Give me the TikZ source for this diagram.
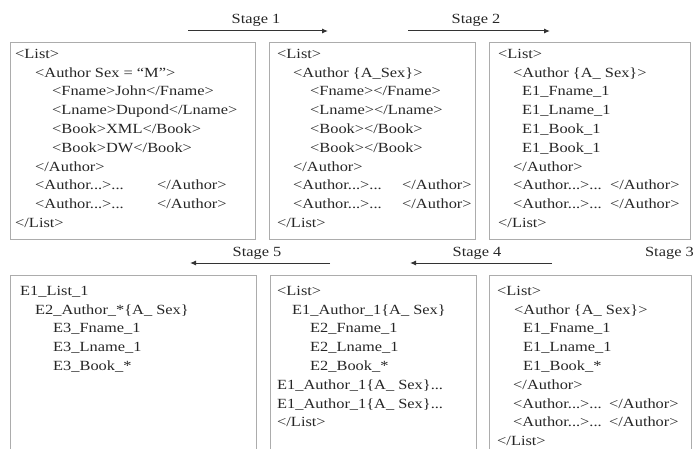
\documentclass[tikz,border=0pt]{standalone}
\usepackage{fontspec}
\setmainfont{Liberation Serif}[FakeStretch=1.17]
\usetikzlibrary{arrows.meta}

\tikzset{
  panel/.style={draw=gray!65, line width=1.4pt, inner sep=0pt, anchor=north west},
  listing/.style={anchor=north west, inner sep=0pt, align=left, text=black!85,
    font=\fontsize{14}{18.8}\selectfont},
  stagelabel/.style={inner sep=0pt, text=black!85, font=\fontsize{14}{16}\selectfont},
  stagearrow/.style={draw=black!80, line width=1pt, -{Latex[length=6pt,width=5pt]}}
}
\newcommand{\ind}[1]{\hspace*{#1pt}}
\newcommand{\fix}{\rule{0pt}{12pt}}

\begin{document}
\begin{tikzpicture}[x=1pt,y=-1pt]
\useasboundingbox (0,0) rectangle (695,449);
\clip (0,0) rectangle (695,449);

% ---- panels ----
\node[panel, minimum width=245pt, minimum height=197pt] (b1) at (10,42) {};
\node[panel, minimum width=206pt, minimum height=197pt] (b2) at (269,42) {};
\node[panel, minimum width=201pt, minimum height=197pt] (b3) at (489,42) {};
\node[panel, minimum width=246pt, minimum height=200pt] (b4) at (10,275) {};
\node[panel, minimum width=206pt, minimum height=200pt] (b5) at (270,275) {};
\node[panel, minimum width=202pt, minimum height=200pt] (b6) at (489,275) {};

% ---- contents: original document ----
\node[listing] (t1) at (15,46) {\fix<List>\\
\ind{20}<Author Sex = ``M''>\\
\ind{37}<Fname>John</Fname>\\
\ind{37}<Lname>Dupond</Lname>\\
\ind{37}<Book>XML</Book>\\
\ind{37}<Book>DW</Book>\\
\ind{20}</Author>\\
\ind{20}\makebox[122pt][l]{<Author...>...}</Author>\\
\ind{20}\makebox[122pt][l]{<Author...>...}</Author>\\
</List>};

% ---- contents: stage 1 ----
\node[listing] (t2) at (277,46) {\fix<List>\\
\ind{16}<Author \{A\_Sex\}>\\
\ind{33}<Fname></Fname>\\
\ind{33}<Lname></Lname>\\
\ind{33}<Book></Book>\\
\ind{33}<Book></Book>\\
\ind{16}</Author>\\
\ind{16}\makebox[109pt][l]{<Author...>...}</Author>\\
\ind{16}\makebox[109pt][l]{<Author...>...}</Author>\\
</List>};

% ---- contents: stage 2 ----
\node[listing] (t3) at (498,46) {\fix<List>\\
\ind{15}<Author \{A\_ Sex\}>\\
\ind{24}E1\_Fname\_1\\
\ind{24}E1\_Lname\_1\\
\ind{24}E1\_Book\_1\\
\ind{24}E1\_Book\_1\\
\ind{15}</Author>\\
\ind{15}\makebox[97pt][l]{<Author...>...}</Author>\\
\ind{15}\makebox[97pt][l]{<Author...>...}</Author>\\
</List>};

% ---- contents: stage 5 ----
\node[listing] (t4) at (20,283) {\fix E1\_List\_1\\
\ind{15}E2\_Author\_*\{A\_ Sex\}\\
\ind{33}E3\_Fname\_1\\
\ind{33}E3\_Lname\_1\\
\ind{33}E3\_Book\_*};

% ---- contents: stage 4 ----
\node[listing] (t5) at (277,283) {\fix<List>\\
\ind{15}E1\_Author\_1\{A\_ Sex\}\\
\ind{33}E2\_Fname\_1\\
\ind{33}E2\_Lname\_1\\
\ind{33}E2\_Book\_*\\
E1\_Author\_1\{A\_ Sex\}...\\
E1\_Author\_1\{A\_ Sex\}...\\
</List>};

% ---- contents: stage 3 ----
\node[listing] (t6) at (497,283) {\fix<List>\\
\ind{17}<Author \{A\_ Sex\}>\\
\ind{26}E1\_Fname\_1\\
\ind{26}E1\_Lname\_1\\
\ind{26}E1\_Book\_*\\
\ind{16}</Author>\\
\ind{16}\makebox[96pt][l]{<Author...>...}</Author>\\
\ind{16}\makebox[96pt][l]{<Author...>...}</Author>\\
</List>};

% ---- stage arrows ----
\coordinate (s1a) at (188,31);  \coordinate (s1b) at (328,31);
\coordinate (s2a) at (408,31);  \coordinate (s2b) at (550,31);
\coordinate (s5a) at (330,263); \coordinate (s5b) at (190,263);
\coordinate (s4a) at (552,263); \coordinate (s4b) at (410,263);
\draw[stagearrow] (s1a) -- (s1b);
\draw[stagearrow] (s2a) -- (s2b);
\draw[stagearrow] (s5a) -- (s5b);
\draw[stagearrow] (s4a) -- (s4b);

\node[stagelabel] (l1) at (256,20) {Stage 1};
\node[stagelabel] (l2) at (476,20) {Stage 2};
\node[stagelabel] (l5) at (257,253) {Stage 5};
\node[stagelabel] (l4) at (477,253) {Stage 4};
\node[stagelabel, anchor=east] (l3) at (694,253) {Stage 3};
\end{tikzpicture}
\end{document}
